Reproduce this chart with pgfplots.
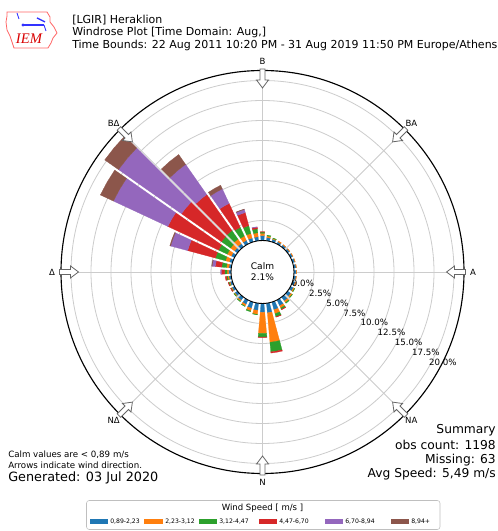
\documentclass[border=0pt]{standalone}
\usepackage{pgfplots}
\pgfplotsset{compat=1.18}
\usepackage{pgfplotstable}
\usepackage{fontspec}
\setmainfont{DejaVu Sans}
\newfontfamily\iemfont{Liberation Serif}

\definecolor{wsA}{HTML}{1F77B4}
\definecolor{wsB}{HTML}{FF7F0E}
\definecolor{wsC}{HTML}{2CA02C}
\definecolor{wsD}{HTML}{D62728}
\definecolor{wsE}{HTML}{9467BD}
\definecolor{wsF}{HTML}{8C564B}
\definecolor{gridc}{HTML}{CCCCCC}

% frequency (%) per direction and speed class
\pgfplotstableread{
b   c1   c2   c3   c4   c5   c6
0   0.60 0.30 0.15 0.05 0    0
10  0.40 0.20 0.10 0    0    0
20  0.35 0.10 0.05 0    0    0
30  0.30 0.10 0    0    0    0
40  0.30 0.05 0    0    0    0
50  0.30 0.05 0    0    0    0
60  0.30 0.05 0    0    0    0
70  0.30 0.05 0    0    0    0
80  0.30 0.05 0    0    0    0
90  0.30 0.05 0    0    0    0
100 0.30 0.05 0    0    0    0
110 0.35 0.10 0    0    0    0
120 0.40 0.15 0.05 0    0    0
130 0.50 0.20 0.05 0    0    0
140 0.60 0.25 0.10 0    0    0
150 0.80 0.30 0.20 0.05 0    0
160 1.00 0.50 0.40 0.05 0    0
170 1.20 3.70 1.20 0.15 0    0
180 1.10 2.65 0.45 0.05 0    0
190 0.90 0.50 0.05 0    0    0
200 0.80 0.35 0.10 0    0    0
210 0.60 0.25 0.05 0    0    0
220 0.50 0.15 0.05 0    0    0
230 0.40 0.10 0.05 0    0    0
240 0.35 0.10 0.05 0.05 0    0
250 0.30 0.10 0.10 0.05 0    0
260 0.30 0.15 0.15 0.15 0    0
270 0.30 0.20 0.30 0.40 0.10 0
280 0.30 0.30 0.60 0.80 0.40 0.05
290 0.40 0.50 1.30 3.60 2.20 0.10
300 0.45 0.55 1.20 7.00 7.50 1.80
310 0.45 0.60 1.40 6.10 9.60 2.10
320 0.50 0.70 1.30 5.50 4.60 1.50
330 0.50 0.60 1.20 3.30 2.00 0.50
340 0.50 0.60 1.00 1.70 0.40 0.05
350 0.50 0.50 0.50 0.20 0.05 0
}\rose

\newcommand\cx{262.5}
\newcommand\cy{272}
\newcommand\rz{31.5}
\newcommand\rs{8}
\newcommand\hg{1.3}

\newcommand\seg[3]{%
  \pgfplotstablegetelem{#1}{#2}\of\rose
  \pgfmathsetmacro\segv{\pgfplotsretval}%
  \pgfmathsetmacro\rin{\rz+\rs*\cum}%
  \pgfmathsetmacro\newcum{\cum+\segv}%
  \pgfmathsetmacro\rout{\rz+\rs*\newcum}%
  \global\let\cum\newcum
  \ifdim\segv pt>0.001pt
    \pgfmathsetmacro\tA{\bb-5}%
    \pgfmathsetmacro\tB{\bb+5}%
    \pgfmathsetmacro\xAi{\rin*sin(\tA)+\hg*cos(\tA)}%
    \pgfmathsetmacro\yAi{\rin*cos(\tA)-\hg*sin(\tA)}%
    \pgfmathsetmacro\xMi{\rin*sin(\bb)}%
    \pgfmathsetmacro\yMi{\rin*cos(\bb)}%
    \pgfmathsetmacro\xBi{\rin*sin(\tB)-\hg*cos(\tB)}%
    \pgfmathsetmacro\yBi{\rin*cos(\tB)+\hg*sin(\tB)}%
    \pgfmathsetmacro\xAo{\rout*sin(\tA)+\hg*cos(\tA)}%
    \pgfmathsetmacro\yAo{\rout*cos(\tA)-\hg*sin(\tA)}%
    \pgfmathsetmacro\xMo{\rout*sin(\bb)}%
    \pgfmathsetmacro\yMo{\rout*cos(\bb)}%
    \pgfmathsetmacro\xBo{\rout*sin(\tB)-\hg*cos(\tB)}%
    \pgfmathsetmacro\yBo{\rout*cos(\tB)+\hg*sin(\tB)}%
    \edef\tmp{\noexpand\addplot[fill=#3,draw=#3,line width=0.2pt,forget plot] coordinates {(\xAi,\yAi) (\xMi,\yMi) (\xBi,\yBi) (\xBo,\yBo) (\xMo,\yMo) (\xAo,\yAo)} --cycle;}%
    \tmp
  \fi
}
\newcommand\drawbar[1]{%
  \pgfplotstablegetelem{#1}{b}\of\rose
  \pgfmathsetmacro\bb{\pgfplotsretval}%
  \gdef\cum{0}%
  \seg{#1}{c1}{wsA}\seg{#1}{c2}{wsB}\seg{#1}{c3}{wsC}%
  \seg{#1}{c4}{wsD}\seg{#1}{c5}{wsE}\seg{#1}{c6}{wsF}%
}
\newcommand\warrow[1]{%
 \draw[fill=white, draw=black!60, line width=0.6pt]
  ({\cx+184*sin(#1)},{\cy-184*cos(#1)}) --
  ({\cx+192*sin(#1)+6*cos(#1)},{\cy-192*cos(#1)+6*sin(#1)}) --
  ({\cx+192*sin(#1)+2.5*cos(#1)},{\cy-192*cos(#1)+2.5*sin(#1)}) --
  ({\cx+203*sin(#1)+2.5*cos(#1)},{\cy-203*cos(#1)+2.5*sin(#1)}) --
  ({\cx+203*sin(#1)-2.5*cos(#1)},{\cy-203*cos(#1)-2.5*sin(#1)}) --
  ({\cx+192*sin(#1)-2.5*cos(#1)},{\cy-192*cos(#1)-2.5*sin(#1)}) --
  ({\cx+192*sin(#1)-6*cos(#1)},{\cy-192*cos(#1)-6*sin(#1)}) -- cycle;
}

\begin{document}
\begin{tikzpicture}[x=0.75pt,y=0.75pt]
\useasboundingbox (0,0) rectangle (497,531);
\clip (0,0) rectangle (497,531);
\fill[white] (0,0) rectangle (497,531);
\begin{scope}[shift={(0,531)},yscale=-1]
  \foreach \k in {1,...,8} \draw[gridc, line width=0.6pt] (\cx,\cy) circle[radius={\rz+20*\k}];
  \foreach \b in {0,45,...,315} \draw[gridc, line width=0.6pt] ({\cx+30*sin(\b)},{\cy-30*cos(\b)}) -- ({\cx+201.5*sin(\b)},{\cy-201.5*cos(\b)});
\end{scope}

\begin{axis}[at={(262.5,259)}, anchor=center, scale only axis,
  width=307.5pt, height=307.5pt, xmin=-205, xmax=205, ymin=-205, ymax=205,
  hide axis, clip=false]
  \pgfplotsinvokeforeach{0,...,35}{\drawbar{#1}}
\end{axis}

\begin{scope}[shift={(0,531)},yscale=-1]
  \draw[black, line width=0.85pt] (\cx,\cy) circle[radius=201.5];
  \draw[black, line width=0.7pt, fill=white] (\cx,\cy) circle[radius=\rz];
  \node[align=center, font=\fontsize{6.8}{8}\selectfont] at (\cx,271.5) {Calm\\2.1\%};
  \foreach \b in {0,45,...,315} \warrow{\b};
  \foreach \b/\t in {0/Β,45/ΒΑ,90/Α,135/ΝΑ,180/Ν,225/ΝΔ,270/Δ,315/ΒΔ}
    \node[font=\fontsize{6.4}{7}\selectfont, inner sep=0] at ({\cx+210.5*sin(\b)},{\cy-210.5*cos(\b)}) {\t};
  \foreach \k/\t in {0/0.0,1/2.5,2/5.0,3/7.5,4/10.0,5/12.5,6/15.0,7/17.5,8/20.0}
    \node[anchor=west, inner sep=0, font=\fontsize{6.5}{7}\selectfont] at ({291.7+17.15*\k},{283.3+9.85*\k}) {\t\%};
  % title
  \node[anchor=west, inner sep=0, font=\fontsize{8.25}{9}\selectfont] at (72,20) {[LGIR] Heraklion};
  \node[anchor=west, inner sep=0, font=\fontsize{8.25}{9}\selectfont] at (72,32.5) {Windrose Plot [Time Domain: Aug,]};
  \node[anchor=west, inner sep=0, font=\fontsize{8.25}{9}\selectfont] at (72,45) {Time Bounds: 22 Aug 2011 10:20 PM - 31 Aug 2019 11:50 PM Europe/Athens};
  % logo
  \draw[red!60, line width=0.6pt] (7,12) -- (47,12) -- (50,17) -- (50,22) -- (54,27) -- (57,33) -- (53,38) -- (51,43) -- (48,48) -- (14,48) -- (12,42) -- (10,36) -- (7,30) -- (6,22) -- (7,16) -- cycle;
  \draw[blue!80, line width=1pt] (23,25) -- (44,25);
  \fill[blue!80] (23,25) circle[radius=1.6];
  \draw[blue!80, line width=1pt] (37,18) -- (45,22);
  \draw[blue!80, line width=0.6pt] (44,25) -- (46,31);
  \draw[blue!80, line width=0.6pt] (17,13) -- (19,19);
  \node[red!85!black, font=\iemfont\itshape\fontsize{11}{12}\selectfont, inner sep=0] at (29,39) {IEM};
  % bottom left notes
  \node[anchor=west, inner sep=0, font=\fontsize{6.5}{7}\selectfont] at (8,454.5) {Calm values are < 0,89 m/s};
  \node[anchor=west, inner sep=0, font=\fontsize{6.5}{7}\selectfont] at (8,465) {Arrows indicate wind direction.};
  \node[anchor=west, inner sep=0, font=\fontsize{9.6}{11}\selectfont] at (8,477.5) {Generated: 03 Jul 2020};
  % summary
  \node[anchor=east, inner sep=0, font=\fontsize{9.2}{11}\selectfont] at (496,430.5) {Summary};
  \node[anchor=east, inner sep=0, font=\fontsize{9.2}{11}\selectfont] at (496,445) {obs count: 1198};
  \node[anchor=east, inner sep=0, font=\fontsize{9.2}{11}\selectfont] at (496,460) {Missing: 63};
  \node[anchor=east, inner sep=0, font=\fontsize{9.2}{11}\selectfont] at (496,474.5) {Avg Speed: 5,49 m/s};
  % legend
  \draw[black!25, fill=white, rounded corners=2pt] (86.5,500.5) rectangle (440,529.5);
  \node[font=\fontsize{6.4}{7}\selectfont, inner sep=0] at (262.5,507.7) {Wind Speed [ m/s ]};
  \foreach \xa/\xb/\c/\t in {90/108/wsA/{0,89-2,23},144/163/wsB/{2,23-3,12},199/217/wsC/{3,12-4,47},259/277/wsD/{4,47-6,70},325/343/wsE/{6,70-8,94},391/409/wsF/{8,94+}} {
    \fill[\c] (\xa,519) rectangle (\xb,524);
    \node[anchor=west, inner sep=0, font=\fontsize{4.6}{5}\selectfont] at (\xb+2,521.5) {\t};
  }
\end{scope}
\end{tikzpicture}
\end{document}
